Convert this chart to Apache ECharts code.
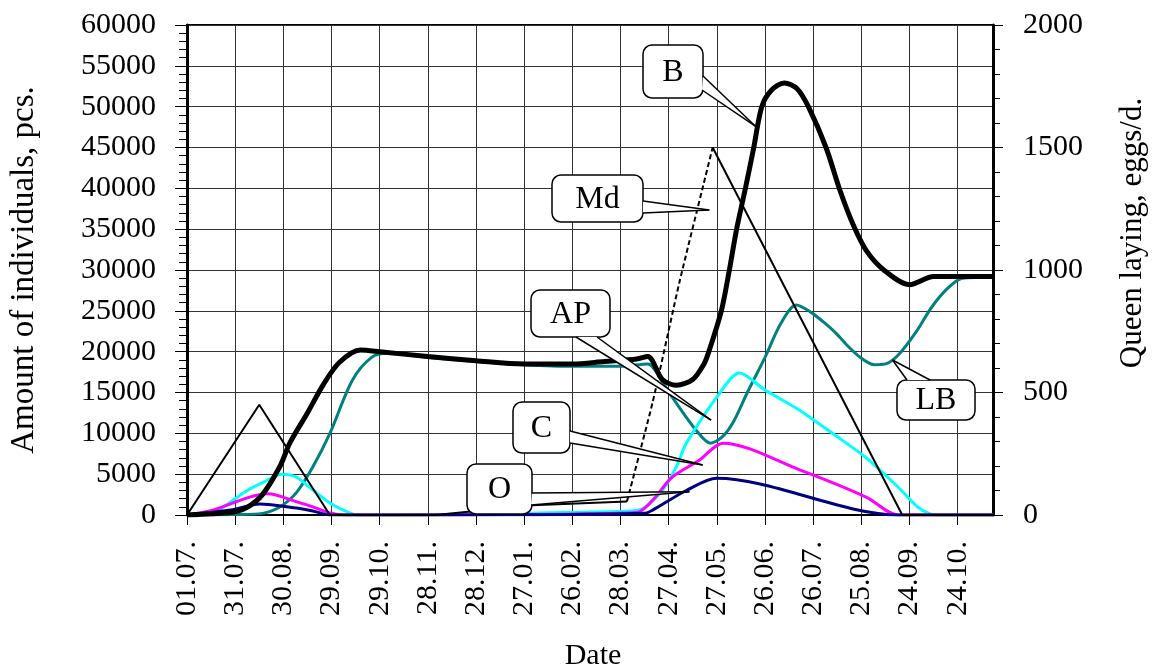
<!DOCTYPE html>
<html>
<head>
<meta charset="utf-8">
<script src="https://cdn.jsdelivr.net/npm/echarts@6/dist/echarts.min.js"></script>
<style>
html,body{margin:0;padding:0;background:#fff;}
#chart{width:1153px;height:671px;}
</style>
</head>
<body>
<div id="chart"></div>
<script>
// ---- Data (x = days since 01.07.) ----
const tickLabels = ['01.07.','31.07.','30.08.','29.09.','29.10.','28.11.','28.12.','27.01.','26.02.','28.03.','27.04.','27.05.','26.06.','26.07.','25.08.','24.09.','24.10.'];

// B (left axis, individuals)
const B = [[0,0],[15,150],[30,400],[38,1000],[47,2500],[58,6000],[64,8800],[75,12500],[85,16000],[95,18700],[108,20200],[120,20000],[150,19400],[180,18900],[210,18500],[240,18500],[260,18800],[280,19100],[287,19400],[296,16600],[304.8,15900],[315,16600],[322,18500],[325,20000],[332.8,25000],[337.8,30000],[342.3,35000],[347.8,40000],[353,45000],[358,50000],[364,52000],[372,52900],[380,52200],[387,50000],[398,45000],[406.6,39800],[415,35500],[423,32400],[434,30000],[450,28200],[465,29200],[502,29200]];
// LB
const LB = [[0,0],[30,50],[47,200],[58,1000],[68.4,2800],[78.4,5900],[89,10000],[103,16500],[115,19300],[125,19800],[150,19300],[180,18800],[210,18400],[240,18200],[270,18200],[287,18500],[296,16300],[302.3,14400],[317,10400],[326,8800],[333,9500],[340,11300],[349,15000],[360,19300],[370,23500],[379.5,25700],[388,24900],[396,23700],[404,22300],[412,20600],[420,19200],[428,18400],[435,18500],[443,19600],[454,22400],[464,25500],[474,27800],[483,29000],[502,29100]];
// AP
const AP = [[0,0],[16,300],[37.5,3000],[47.5,4000],[59,5000],[68,4650],[78.4,3060],[89,1470],[99.6,400],[106,0],[160,50],[220,250],[276,500],[284,800],[296,3000],[304.8,5900],[311,8800],[331.7,14900],[344,17400],[360,15300],[381,12900],[402,10000],[423,7000],[443,3400],[455,1000],[462,200],[467,0],[502,0]];
// C
const C = [[0,0],[16,600],[37.5,2100],[50.4,2600],[68.4,1600],[78.4,1000],[89,250],[98,0],[200,50],[280,300],[290,1800],[302,4600],[319,6700],[334,8800],[382,5500],[423,2200],[443,0],[502,0]];
// O
const O = [[0,0],[27,600],[45.4,1350],[68.4,850],[78.4,500],[89,0],[200,30],[285,200],[290,600],[311,3000],[330,4500],[443,0],[502,0]];
// Md (right axis, eggs/day)
const mdFirst = [[0,0],[45,450],[89,0],[155,0],[215,40],[274,55]];
const mdRise = [[274,55],[290,460],[306.7,950],[327.4,1500]];
const mdFall = [[327.4,1500],[445.5,0],[502,0]];

// Callout anchors (tip in data coords of left axis)
const calloutTexts = ['B','Md','AP','C','O','LB'];
const calloutTips = [[354.4,47550],[325.3,37350],[326.4,11630],[321.2,6120],[312.9,2850],[439.4,18980]];

// ---- Layout / style (annotation boxes in px) ----
const calloutBoxes = [
  {x:643,y:45,w:60,h:53, base:[[703,76],[702,90]]},
  {x:552,y:175,w:91,h:47, base:[[643,201],[643,213]]},
  {x:531,y:290,w:79,h:47, base:[[576,337],[597,337]]},
  {x:513,y:402,w:57,h:51, base:[[570,431],[570,443]]},
  {x:467,y:464,w:65,h:50, base:[[532,493],[531,505]]},
  {x:897,y:380,w:78,h:40, base:[[907,380],[930,380]]}
];

const FONT = 'Liberation Serif';
const chart = echarts.init(document.getElementById('chart'), null, {renderer:'canvas'});

function lineSeries(name, data, color, width, yIdx, opts) {
  return Object.assign({
    name, type:'line', data, yAxisIndex:yIdx, showSymbol:false, symbol:'none',
    smooth:0.3, lineStyle:{color, width}, itemStyle:{color}, silent:true
  }, opts || {});
}
const plain = function(v){ return String(v); };

const option = {
  animation:false,
  backgroundColor:'#fff',
  grid:{left:187,right:160,top:25,bottom:156,show:true,borderColor:'#000',borderWidth:2,backgroundColor:'transparent'},
  xAxis:{
    type:'value', min:0, max:502, interval:30,
    axisLine:{show:true,onZero:false,lineStyle:{color:'#000',width:2}},
    axisTick:{show:true,length:10,lineStyle:{color:'#000',width:1}},
    axisLabel:{rotate:90,margin:26,fontFamily:FONT,fontSize:30,color:'#000',showMaxLabel:false,showMinLabel:true,
      formatter:function(v){ if (Math.abs(v/30-Math.round(v/30))>1e-6) return ''; const i=Math.round(v/30); return tickLabels[i]||''; }},
    splitLine:{show:true,lineStyle:{color:'#333',width:1}}
  },
  yAxis:[
    {type:'value',min:0,max:60000,interval:5000,position:'left',
     axisLine:{show:true,lineStyle:{color:'#000',width:3}},
     axisTick:{show:true,length:12,lineStyle:{color:'#000',width:1}},
     minorTick:{show:true,splitNumber:5,length:8,lineStyle:{color:'#000',width:1}},
     axisLabel:{margin:31,fontFamily:FONT,fontSize:30,color:'#000',formatter:plain},
     splitLine:{show:true,lineStyle:{color:'#333',width:1}},
     minorSplitLine:{show:false}},
    {type:'value',min:0,max:2000,interval:500,position:'right',
     axisLine:{show:true,lineStyle:{color:'#000',width:3}},
     axisTick:{show:true,length:10,lineStyle:{color:'#000',width:1}},
     minorTick:{show:true,splitNumber:5,length:7,lineStyle:{color:'#000',width:1}},
     axisLabel:{margin:30,fontFamily:FONT,fontSize:30,color:'#000',formatter:plain},
     splitLine:{show:false}}
  ],
  series:[
    lineSeries('LB', LB, '#008080', 3, 0),
    lineSeries('AP', AP, '#00FFFF', 3, 0),
    lineSeries('C', C, '#FF00FF', 3, 0),
    lineSeries('O', O, '#000080', 3, 0),
    lineSeries('Md', mdFirst, '#000', 2, 1, {smooth:false}),
    lineSeries('Md rise', mdRise, '#000', 2, 1, {smooth:0.2, lineStyle:{color:'#000',width:2,type:[5,3]}}),
    lineSeries('Md fall', mdFall, '#000', 2, 1, {smooth:false}),
    lineSeries('B', B, '#000', 5, 0, {smooth:0.3})
  ]
};
chart.setOption(option);

// ---- Annotations ----
const graphics = [];
calloutTexts.forEach(function(txt, i){
  const b = calloutBoxes[i];
  const tip = chart.convertToPixel({xAxisIndex:0,yAxisIndex:0}, calloutTips[i]);
  graphics.push({type:'rect',z:100,shape:{x:b.x,y:b.y,width:b.w,height:b.h,r:9},style:{fill:'#fff',stroke:'#000',lineWidth:1.5}});
  graphics.push({type:'polygon',z:101,shape:{points:[b.base[0],tip,b.base[1]]},style:{fill:'#fff',stroke:null}});
  graphics.push({type:'polyline',z:102,shape:{points:[b.base[0],tip]},style:{stroke:'#000',lineWidth:1.5,fill:null}});
  graphics.push({type:'polyline',z:102,shape:{points:[b.base[1],tip]},style:{stroke:'#000',lineWidth:1.5,fill:null}});
  graphics.push({type:'text',z:103,x:b.x+b.w/2,y:b.y+b.h/2+1,style:{text:txt,fontFamily:FONT,fontSize:32,fill:'#000',align:'center',verticalAlign:'middle'}});
});
// Axis titles
graphics.push({type:'text',z:103,x:24,y:270,rotation:Math.PI/2,style:{text:'Amount of individuals, pcs.',fontFamily:FONT,fontSize:33,fill:'#000',align:'center',verticalAlign:'middle'}});
graphics.push({type:'text',z:103,x:1133,y:233,rotation:Math.PI/2,style:{text:'Queen laying, eggs/d.',fontFamily:FONT,fontSize:31,fill:'#000',align:'center',verticalAlign:'middle'}});
graphics.push({type:'text',z:103,x:593,y:656,style:{text:'Date',fontFamily:FONT,fontSize:30,fill:'#000',align:'center',verticalAlign:'middle'}});
chart.setOption({graphic:graphics});
</script>
</body>
</html>
